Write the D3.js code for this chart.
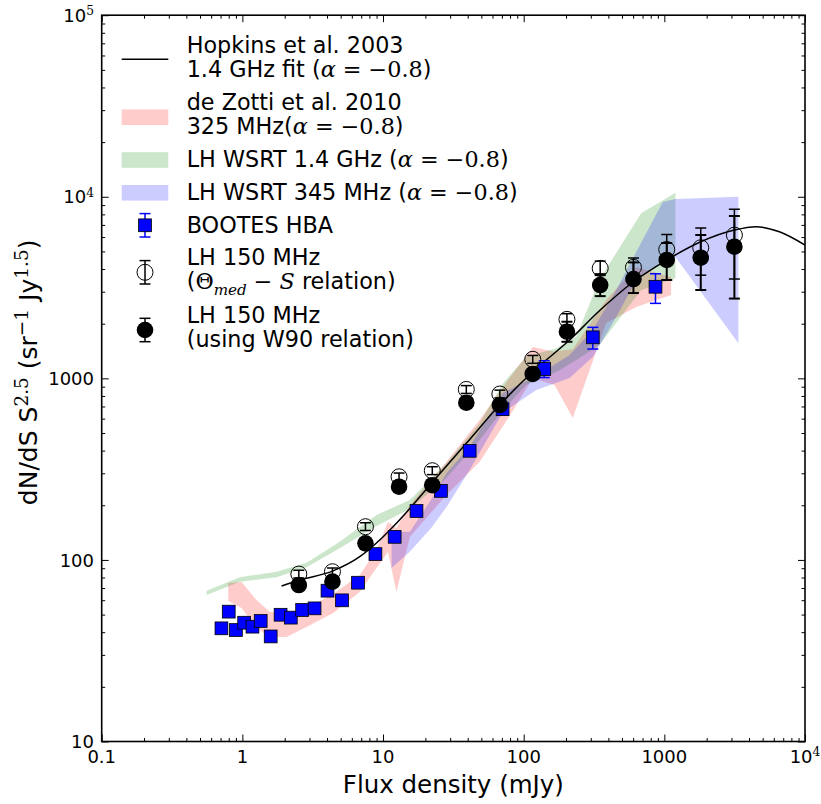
<!DOCTYPE html>
<html>
<head>
<meta charset="utf-8">
<script src="https://cdn.jsdelivr.net/npm/d3@7/dist/d3.min.js"></script>
<style>
  body { margin: 0; background: #fff; }
  svg { font-family: "DejaVu Sans", sans-serif; }
</style>
</head>
<body>
<svg id="chart" width="821" height="804"></svg>
<script>
var xTicks = [0.1, 1, 10, 100, 1000, 10000];
var xTickLabels = ['0.1', '1', '10', '100', '1000', '10^4'];
var yTicks = [10, 100, 1000, 10000, 100000];
var yTickLabels = ['10', '100', '1000', '10^4', '10^5'];

// Hopkins et al. 2003 fit
var hopkinsS = [1.9, 2.56, 4.41, 6.83, 9.48, 13.1, 22.6, 39.1, 67.4, 116, 212, 350, 603, 1040, 1815, 3148, 4487, 6577, 10000];
var hopkinsN = [71.8, 77.5, 87, 104.2, 128.8, 166, 269.6, 438.6, 713, 1087, 1626, 2378, 3404, 4483, 5650, 6557, 6839, 6412, 5420];

// de Zotti et al. 2010, 325 MHz band
var zottiS = [0.793, 0.987, 1.26, 1.57, 2.06, 2.86, 4.42, 6.83, 8.98, 10.85, 12.45, 15.5, 28.2, 48.6, 79.4, 116, 165.6, 223.5, 386, 631, 1117];
var zottiLo = [59.4, 54.3, 42.2, 37.6, 37.6, 42.7, 51.0, 66.6, 90.3, 110.6, 66.6, 133.7, 227.7, 346, 620, 1004, 919, 604, 2018, 2470, 2876];
var zottiHi = [74.6, 75.6, 60.1, 51.6, 51.6, 54.3, 64.9, 82.6, 113.4, 161.7, 149.9, 200.6, 346, 590, 1004, 1487, 1400, 1450, 2700, 4100, 3612];

// LH WSRT 1.4 GHz band
var wsrt14S = [0.557, 0.96, 1.75, 2.86, 4.92, 8.98, 15.5, 28.2, 48.6, 71.1, 104.3, 170.6, 236.4, 346, 684, 1199];
var wsrt14Lo = [64.1, 75.9, 80.2, 91.0, 115.8, 153.7, 190.6, 282.5, 457.6, 669.6, 919, 1083, 1262, 1525, 3065, 3555];
var wsrt14Hi = [67.7, 80.2, 86.1, 96.5, 126, 176.7, 213.8, 340.3, 565.3, 938, 1315, 1463, 1694, 3500, 8105, 10520];

// LH WSRT 345 MHz band
var wsrt345S = [11.5, 15.5, 22, 28.2, 41.3, 71.1, 123, 212, 310, 455, 631, 974, 1199, 3360];
var wsrt345Lo = [90.3, 111, 150, 195, 313, 650, 862, 1004, 1310, 2176, 3479, 4368, 4656, 1559];
var wsrt345Hi = [142.5, 143, 215, 300, 420, 830, 1030, 1344, 1846, 3065, 4959, 9350, 9710, 10000];

// BOOTES HBA
var bootesS = [0.71, 0.80, 0.90, 1.03, 1.18, 1.35, 1.59, 1.87, 2.21, 2.66, 3.26, 4.03, 5.11, 6.64, 8.83, 12.1, 17.3, 25.8, 41.3, 70.8, 140, 310, 865];
var bootesN = [42.0, 51.9, 41.1, 45.1, 42.9, 46.1, 37.9, 49.9, 48.1, 53.0, 54.1, 67.7, 59.9, 74.9, 107.7, 134, 186, 240, 399, 676, 1126, 1682, 3195];
var bootesLo = [40.5, 50.0, 39.6, 43.5, 41.4, 44.5, 36.5, 48.1, 46.4, 51.1, 52.2, 65.3, 57.8, 72.2, 103.9, 128, 178, 229, 378, 630, 1010, 1450, 2588];
var bootesHi = [43.5, 53.8, 42.6, 46.7, 44.4, 47.7, 39.3, 51.7, 49.8, 54.9, 56.0, 70.1, 62.0, 77.6, 111.5, 140, 194, 251, 420, 722, 1250, 1910, 3767];

// LH 150 MHz, both size relations share the flux bins
var lhS = [2.52, 4.37, 7.50, 13.0, 22.4, 39.1, 67.7, 116, 203, 350, 603, 1040, 1815, 3148];
var thetaN = [83.6, 86.1, 152.4, 287, 310, 869, 820, 1273, 2113, 4036, 4085, 5129, 5236, 6150];
var thetaLo = [79.5, 81.8, 145, 273, 295, 826, 780, 1210, 1960, 3690, 3650, 4250, 3700, 3524];
var thetaHi = [87.8, 90.4, 160, 301, 326, 912, 861, 1337, 2270, 4422, 4600, 6190, 6740, 8540];
var w90N = [72.7, 75.9, 123.4, 253, 258, 734, 713, 1057, 1806, 3266, 3524, 4487, 4617, 5309];
var w90Lo = [69.8, 72.9, 118.5, 243, 248, 705, 684, 1004, 1590, 2837, 2950, 3480, 3065, 2750];
var w90Hi = [75.6, 78.9, 128.3, 263, 268, 763, 742, 1110, 2050, 3750, 4350, 5570, 6150, 7830];

var plot = { left: 101.7, right: 805, top: 15.2, bottom: 741.5 };
var mathFont = '"DejaVu Serif", serif';

var svg = d3.select('#chart');
var x = d3.scaleLog().domain([0.1, 1e4]).range([plot.left, plot.right]);
var y = d3.scaleLog().domain([10, 1e5]).range([plot.bottom, plot.top]);

svg.append('clipPath').attr('id', 'plot-clip')
  .append('rect')
  .attr('x', plot.left).attr('y', plot.top)
  .attr('width', plot.right - plot.left)
  .attr('height', plot.bottom - plot.top);

var dataRoot = svg.append('g').attr('clip-path', 'url(#plot-clip)');

renderBands();
renderHopkins();
renderPoints();
renderAxes();
renderAxisLabels();
renderLegend();

function zipRows(s, lo, hi) {
  return s.map(function (v, i) { return { s: v, lo: lo[i], hi: hi[i] }; });
}

function renderBands() {
  var bands = [
    { rows: zipRows(zottiS, zottiLo, zottiHi), color: 'red' },
    { rows: zipRows(wsrt14S, wsrt14Lo, wsrt14Hi), color: 'green' },
    { rows: zipRows(wsrt345S, wsrt345Lo, wsrt345Hi), color: 'blue' }
  ];
  var area = d3.area()
    .x(function (d) { return x(d.s); })
    .y0(function (d) { return y(d.lo); })
    .y1(function (d) { return y(d.hi); });

  dataRoot.selectAll('.band').data(bands).enter()
    .append('path')
    .classed('band', true)
    .attr('d', function (b) { return area(b.rows); })
    .attr('fill', function (b) { return b.color; })
    .attr('fill-opacity', 0.2)
    .attr('stroke', 'none');
}

function renderHopkins() {
  var line = d3.line()
    .x(function (d) { return x(d[0]); })
    .y(function (d) { return y(d[1]); })
    .curve(d3.curveMonotoneX);
  dataRoot.append('path')
    .attr('d', line(d3.zip(hopkinsS, hopkinsN)))
    .attr('fill', 'none')
    .attr('stroke', 'black')
    .attr('stroke-width', 1.5);
}

function drawErrorbars(root, s, lo, hi, color, width) {
  var rows = zipRows(s, lo, hi);
  var g = root.append('g').attr('stroke', color).attr('stroke-width', width);
  g.selectAll('.bar').data(rows).enter().append('line')
    .attr('x1', function (d) { return x(d.s); })
    .attr('x2', function (d) { return x(d.s); })
    .attr('y1', function (d) { return y(d.lo); })
    .attr('y2', function (d) { return y(d.hi); });
  ['lo', 'hi'].forEach(function (k) {
    g.selectAll('.cap-' + k).data(rows).enter().append('line')
      .attr('x1', function (d) { return x(d.s) - 5.5; })
      .attr('x2', function (d) { return x(d.s) + 5.5; })
      .attr('y1', function (d) { return y(d[k]); })
      .attr('y2', function (d) { return y(d[k]); });
  });
}

function renderPoints() {
  drawErrorbars(dataRoot, bootesS, bootesLo, bootesHi, 'blue', 1.5);
  dataRoot.selectAll('.bootes').data(d3.zip(bootesS, bootesN)).enter()
    .append('rect')
    .attr('x', function (d) { return x(d[0]) - 6.4; })
    .attr('y', function (d) { return y(d[1]) - 6.4; })
    .attr('width', 12.8)
    .attr('height', 12.8)
    .attr('fill', 'blue')
    .attr('stroke', 'black')
    .attr('stroke-width', 0.8);

  drawErrorbars(dataRoot, lhS, thetaLo, thetaHi, 'black', 1.5);
  dataRoot.selectAll('.theta').data(d3.zip(lhS, thetaN)).enter()
    .append('circle')
    .attr('cx', function (d) { return x(d[0]); })
    .attr('cy', function (d) { return y(d[1]); })
    .attr('r', 8)
    .attr('fill', 'none')
    .attr('stroke', 'black')
    .attr('stroke-width', 1);

  drawErrorbars(dataRoot, lhS, w90Lo, w90Hi, 'black', 2);
  dataRoot.selectAll('.w90').data(d3.zip(lhS, w90N)).enter()
    .append('circle')
    .attr('cx', function (d) { return x(d[0]); })
    .attr('cy', function (d) { return y(d[1]); })
    .attr('r', 8.3)
    .attr('fill', 'black');
}

function richText(sel, parts, size, supScale) {
  var shift = 0;
  var scale = supScale || 0.68;
  parts.forEach(function (p) {
    var kind = p[1] || '';
    var target = kind === 'sup' ? -size * 0.38 : kind === 'sub' ? size * 0.28 : 0;
    var ts = sel.append('tspan').attr('dy', target - shift).text(p[0]);
    shift = target;
    if (kind) ts.attr('font-family', mathFont);
    if (kind === 'mi' || kind === 'sub') ts.attr('font-style', 'italic');
    if (kind === 'sup' || kind === 'sub') ts.attr('font-size', size * scale);
  });
}

function tickParts(label) {
  var bits = label.split('^');
  return bits.length > 1 ? [[bits[0], ''], [bits[1], 'sup']] : [[label, '']];
}

function renderAxes() {
  var minorX = x.ticks().filter(function (t) { return xTicks.indexOf(t) < 0; });
  var minorY = y.ticks().filter(function (t) { return yTicks.indexOf(t) < 0; });
  var sides = [
    { axis: d3.axisBottom(x), at: 'translate(0,' + plot.bottom + ')', major: xTicks, minor: minorX },
    { axis: d3.axisTop(x), at: 'translate(0,' + plot.top + ')', major: xTicks, minor: minorX },
    { axis: d3.axisLeft(y), at: 'translate(' + plot.left + ',0)', major: yTicks, minor: minorY },
    { axis: d3.axisRight(y), at: 'translate(' + plot.right + ',0)', major: yTicks, minor: minorY }
  ];
  sides.forEach(function (side) {
    [[side.major, -7], [side.minor, -3.5]].forEach(function (set) {
      svg.append('g')
        .attr('transform', side.at)
        .call(side.axis.tickValues(set[0]).tickSize(set[1]).tickFormat(''))
        .call(function (g) {
          g.select('.domain').remove();
          g.selectAll('line').attr('stroke', 'black').attr('stroke-width', 1);
        });
    });
  });

  svg.append('rect')
    .attr('x', plot.left).attr('y', plot.top)
    .attr('width', plot.right - plot.left)
    .attr('height', plot.bottom - plot.top)
    .attr('fill', 'none')
    .attr('stroke', 'black')
    .attr('stroke-width', 1.6);

  xTicks.forEach(function (t, i) {
    var txt = svg.append('text')
      .attr('x', x(t)).attr('y', plot.bottom + 21.5)
      .attr('text-anchor', 'middle')
      .attr('font-size', 18);
    richText(txt, tickParts(xTickLabels[i]), 18);
  });
  yTicks.forEach(function (t, i) {
    var txt = svg.append('text')
      .attr('x', 94).attr('y', y(t) + 6.7)
      .attr('text-anchor', 'end')
      .attr('font-size', 18);
    richText(txt, tickParts(yTickLabels[i]), 18);
  });
}

function renderAxisLabels() {
  svg.append('text')
    .attr('x', (plot.left + plot.right) / 2)
    .attr('y', 793)
    .attr('text-anchor', 'middle')
    .attr('font-size', 24.5)
    .text('Flux density (mJy)');

  var yl = svg.append('text')
    .attr('transform', 'translate(37,' + ((plot.top + plot.bottom) / 2 - 6) + ') rotate(-90)')
    .attr('text-anchor', 'middle')
    .attr('font-size', 25);
  richText(yl, [['dN/dS S', ''], ['2.5', 'sup'], ['  (sr', ''], ['\u22121', 'sup'], [' Jy', ''], ['1.5', 'sup'], [')', '']], 25, 0.74);
}

function renderLegend() {
  var lg = svg.append('g');
  var textX = 186.7;
  var alpha = [['\u03b1', 'mi'], [' = \u22120.8', 'm']];
  var entries = [
    { kind: 'line', cy: 59.3, lines: [
      [['Hopkins et al. 2003', '']],
      [['1.4 GHz fit (', '']].concat(alpha, [[')', '']])
    ], base: [53.3, 77.3] },
    { kind: 'patch', color: 'red', cy: 117.2, lines: [
      [['de Zotti et al. 2010', '']],
      [['325 MHz(', '']].concat(alpha, [[')', '']])
    ], base: [110, 134] },
    { kind: 'patch', color: 'green', cy: 160, lines: [
      [['LH WSRT 1.4 GHz (', '']].concat(alpha, [[')', '']])
    ], base: [166.7] },
    { kind: 'patch', color: 'blue', cy: 192.8, lines: [
      [['LH WSRT 345 MHz (', '']].concat(alpha, [[')', '']])
    ], base: [200] },
    { kind: 'square', cy: 225.3, lines: [[['BOOTES HBA', '']]], base: [232.7] },
    { kind: 'open', cy: 272.3, lines: [
      [['LH 150 MHz', '']],
      [['(', ''], ['\u0398', 'm'], ['med', 'sub'], [' \u2212 ', 'm'], ['S', 'mi'], [' relation)', '']]
    ], base: [265, 289] },
    { kind: 'filled', cy: 330, lines: [
      [['LH 150 MHz', '']],
      [['(using W90 relation)', '']]
    ], base: [322.7, 346.5] }
  ];

  entries.forEach(function (e) {
    var mx = 145;
    if (e.kind === 'line') {
      lg.append('line').attr('x1', 121.7).attr('x2', 168.3)
        .attr('y1', e.cy).attr('y2', e.cy)
        .attr('stroke', 'black').attr('stroke-width', 1.5);
    } else if (e.kind === 'patch') {
      lg.append('rect').attr('x', 121.7).attr('y', e.cy - 7.8)
        .attr('width', 46.6).attr('height', 15.6)
        .attr('fill', e.color).attr('fill-opacity', 0.2);
    } else {
      var color = e.kind === 'square' ? 'blue' : 'black';
      var eb = lg.append('g').attr('stroke', color).attr('stroke-width', 1.5);
      eb.append('line').attr('x1', mx).attr('x2', mx).attr('y1', e.cy - 11.7).attr('y2', e.cy + 11.7);
      eb.append('line').attr('x1', mx - 5.5).attr('x2', mx + 5.5).attr('y1', e.cy - 11.7).attr('y2', e.cy - 11.7);
      eb.append('line').attr('x1', mx - 5.5).attr('x2', mx + 5.5).attr('y1', e.cy + 11.7).attr('y2', e.cy + 11.7);
      if (e.kind === 'square') {
        lg.append('rect').attr('x', mx - 6.4).attr('y', e.cy - 6.4)
          .attr('width', 12.8).attr('height', 12.8)
          .attr('fill', 'blue').attr('stroke', 'black').attr('stroke-width', 0.8);
      } else if (e.kind === 'open') {
        lg.append('circle').attr('cx', mx).attr('cy', e.cy).attr('r', 8)
          .attr('fill', 'none').attr('stroke', 'black').attr('stroke-width', 1);
      } else {
        lg.append('circle').attr('cx', mx).attr('cy', e.cy).attr('r', 8.3).attr('fill', 'black');
      }
    }
    e.lines.forEach(function (parts, i) {
      var txt = lg.append('text').attr('x', textX).attr('y', e.base[i]).attr('font-size', 22.3);
      richText(txt, parts, 22.3);
    });
  });
}
</script>
</body>
</html>
